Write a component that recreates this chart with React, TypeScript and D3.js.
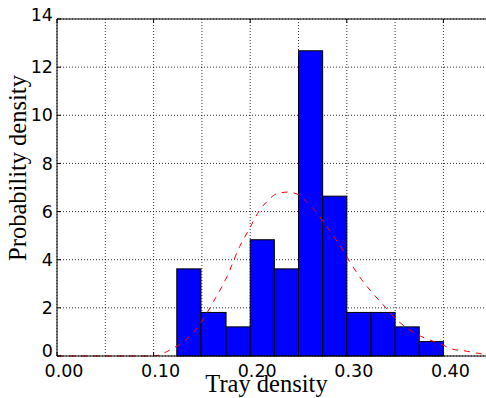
import * as d3 from "d3";

// histogram bin edges (tray density) and probability densities per bin
const binEdges = [0.124, 0.149, 0.175, 0.2, 0.225, 0.25, 0.275, 0.3, 0.325, 0.35, 0.375, 0.4];
const densities = [3.62, 1.81, 1.21, 4.83, 3.62, 12.68, 6.64, 1.81, 1.81, 1.21, 0.6];

// fitted curve
const curveX = [0, 0.05, 0.1, 0.12, 0.131, 0.148, 0.162, 0.176, 0.189, 0.198, 0.21, 0.218, 0.227, 0.239, 0.25, 0.259, 0.268, 0.275, 0.283, 0.296, 0.302, 0.315, 0.324, 0.34, 0.347, 0.365, 0.376, 0.397, 0.41, 0.421, 0.441, 0.46];
const curveY = [0, 0, 0, 0.32, 0.59, 1.33, 2.26, 3.3, 4.54, 5.2, 6.07, 6.44, 6.73, 6.81, 6.7, 6.37, 6.0, 5.62, 5.16, 4.4, 3.99, 3.19, 2.74, 2.02, 1.7, 1.08, 0.83, 0.5, 0.28, 0.22, 0.08, 0.03];

const xTicks = [0, 0.1, 0.2, 0.3, 0.4];
const xGrid = [0, 0.05, 0.1, 0.15, 0.2, 0.25, 0.3, 0.35, 0.4, 0.45];
const yTicks = [0, 2, 4, 6, 8, 10, 12, 14];

const width = 486;
const height = 398;
const left = 57;
const top = 19;
const bottom = 356;

export default function App() {
  const x = d3.scaleLinear().domain([0, 0.45]).range([left, left + 0.45 * 966]);
  const y = d3.scaleLinear().domain([0, 14]).range([bottom, top]);
  const right = x(0.45);

  const line = d3
    .line<number>()
    .x((_, i) => x(curveX[i]))
    .y((d) => y(d))
    .curve(d3.curveMonotoneX);

  const tickFont = "DejaVu Sans, sans-serif";
  const labelFont = "Liberation Serif, Times New Roman, serif";

  return (
    <div style={{ position: "absolute", left: 0, top: 0 }}>
      <svg width={width} height={height} style={{ display: "block", background: "#fff" }}>
        {/* grid */}
        <g stroke="#000" strokeWidth={0.8} strokeDasharray="1,2">
          {xGrid.map((t) => (
            <line key={"gx" + t} x1={x(t)} x2={x(t)} y1={top} y2={bottom} />
          ))}
          {yTicks.map((t) => (
            <line key={"gy" + t} x1={left} x2={right} y1={y(t)} y2={y(t)} />
          ))}
        </g>

        {/* bars */}
        <g fill="#0000ff" stroke="#000" strokeWidth={1}>
          {densities.map((d, i) => (
            <rect
              key={i}
              x={x(binEdges[i])}
              width={x(binEdges[i + 1]) - x(binEdges[i])}
              y={y(d)}
              height={y(0) - y(d)}
            />
          ))}
        </g>

        {/* fitted curve */}
        <path
          d={line(curveY) || ""}
          fill="none"
          stroke="#ff0000"
          strokeWidth={1}
          strokeDasharray="6,6"
        />

        {/* spines */}
        <g stroke="#000" strokeWidth={1} fill="none">
          <line x1={left} x2={right} y1={top} y2={top} />
          <line x1={left} x2={right} y1={bottom} y2={bottom} />
          <line x1={left} x2={left} y1={top} y2={bottom} />
        </g>

        {/* ticks */}
        <g stroke="#000" strokeWidth={1}>
          {xTicks.map((t) => (
            <g key={"tx" + t}>
              <line x1={x(t)} x2={x(t)} y1={bottom} y2={bottom - 4} />
              <line x1={x(t)} x2={x(t)} y1={top} y2={top + 4} />
            </g>
          ))}
          {yTicks.map((t) => (
            <line key={"ty" + t} x1={left} x2={left + 4} y1={y(t)} y2={y(t)} />
          ))}
        </g>

        {/* tick labels */}
        <g fontFamily={tickFont} fontSize={17.5} fill="#000">
          {xTicks.map((t) => (
            <text key={"lx" + t} x={x(t) + 7} y={bottom + 21} textAnchor="middle">
              {d3.format(".2f")(t)}
            </text>
          ))}
          {yTicks.map((t) => (
            <text
              key={"ly" + t}
              x={left - 4}
              y={y(t) - (t === 0 ? 5 : t === 14 ? 4 : 0)}
              dy="0.35em"
              textAnchor="end"
            >
              {t}
            </text>
          ))}
        </g>

        {/* axis labels */}
        <text
          x={266.5}
          y={392}
          textAnchor="middle"
          fontFamily={labelFont}
          fontSize={24.5}
          fill="#000"
        >
          Tray density
        </text>
        <text
          transform={`translate(26,168) rotate(-90)`}
          textAnchor="middle"
          fontFamily={labelFont}
          fontSize={24.5}
          fill="#000"
        >
          Probability density
        </text>
      </svg>
    </div>
  );
}
